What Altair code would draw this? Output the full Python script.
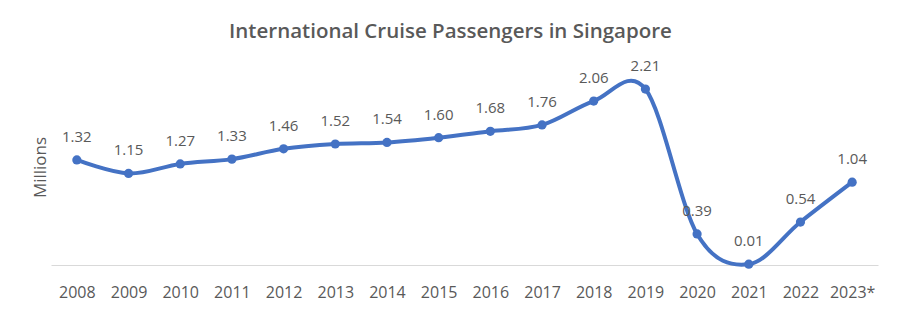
import altair as alt
import pandas as pd

years = ["2008", "2009", "2010", "2011", "2012", "2013", "2014", "2015",
         "2016", "2017", "2018", "2019", "2020", "2021", "2022", "2023*"]
passengers = [1.32, 1.15, 1.27, 1.33, 1.46, 1.52, 1.54, 1.60,
              1.68, 1.76, 2.06, 2.21, 0.39, 0.01, 0.54, 1.04]

df = pd.DataFrame({"year": years, "millions": passengers})
df["label"] = df["millions"].map(lambda v: f"{v:.2f}")

FONT = "Open Sans"
GREY = "#595959"
BLUE = "#4472C4"

x = alt.X("year:N", sort=years, title=None,
          scale=alt.Scale(paddingInner=0, paddingOuter=0),
          axis=alt.Axis(labelAngle=0, ticks=False, domainColor="#d9d9d9",
                        domainWidth=1, labelPadding=19, labelFontSize=16,
                        labelColor=GREY, labelFont=FONT))
y = alt.Y("millions:Q", scale=alt.Scale(domain=[0, 2.5], nice=False),
          title="Millions",
          axis=alt.Axis(labels=False, ticks=False, domain=False, grid=False,
                        titleFont=FONT, titleFontSize=17, titleFontWeight="normal",
                        titleColor=GREY, titleX=-11, titleY=101,
                        titleBaseline="middle"))

base = alt.Chart(df).encode(x=x, y=y)

line = base.mark_line(color=BLUE, strokeWidth=4, interpolate="cardinal", tension=0)
points = base.mark_point(filled=True, color=BLUE, size=85, opacity=1)
labels = base.mark_text(font=FONT, fontSize=15, color=GREY, dy=-23,
                        baseline="middle").encode(text="label:N")

chart = (line + points + labels).properties(
    width=827, height=199,
    autosize=alt.AutoSizeParams(type="none"),
    padding={"left": 51, "top": 66, "right": 22, "bottom": 51},
    title=alt.TitleParams("International Cruise Passengers in Singapore",
                          font=FONT, fontSize=20.5, fontWeight=600,
                          color=GREY, anchor="middle", offset=17, dx=-14),
    background="white",
).configure_view(stroke=None)

chart.save("out.html", embed_options={"renderer": "svg", "actions": False})
